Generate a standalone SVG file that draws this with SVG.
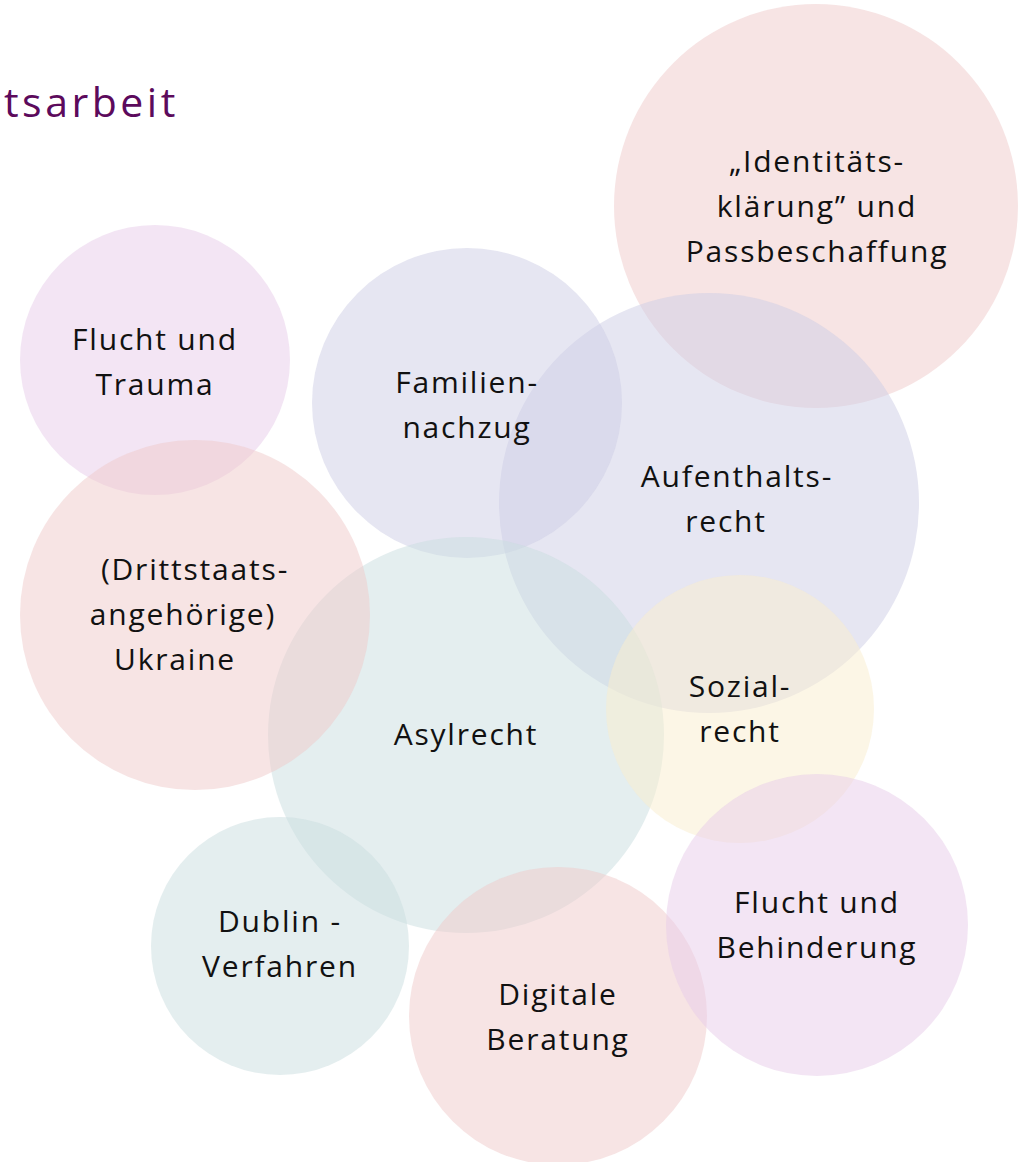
<svg xmlns="http://www.w3.org/2000/svg" width="1024" height="1162" viewBox="0 0 1024 1162">
  <style>
    .bubble { opacity: 0.5; }
    .pink { fill: #efc9c9; }
    .purple { fill: #e7cbe9; }
    .lavender { fill: #cdcde5; }
    .teal { fill: #c9dddf; }
    .yellow { fill: #f9edcd; }
    .label { font-family: "Open Sans", "Liberation Sans", sans-serif; font-size: 30px; letter-spacing: 1.8px; fill: #111; text-anchor: middle; }
    .title { font-family: "Open Sans", "Liberation Sans", sans-serif; font-size: 41px; letter-spacing: 3.5px; fill: #5c0a5c; }
  </style>
  <rect width="1024" height="1162" fill="#ffffff"/>
  <text class="title" x="4" y="117">tsarbeit</text>

  <g id="identitaet">
    <circle class="bubble pink" cx="816" cy="206" r="202"/>
    <text class="label"><tspan x="817" y="172">„Identitäts-</tspan><tspan x="817" y="217">klärung” und</tspan><tspan x="817" y="262">Passbeschaffung</tspan></text>
  </g>
  <g id="aufenthaltsrecht">
    <circle class="bubble lavender" cx="709" cy="503" r="210"/>
    <text class="label"><tspan x="737" y="487">Aufenthalts-</tspan><tspan x="726" y="532">recht</tspan></text>
  </g>
  <g id="familiennachzug">
    <circle class="bubble lavender" cx="467" cy="403" r="155"/>
    <text class="label"><tspan x="467" y="393">Familien-</tspan><tspan x="467" y="438">nachzug</tspan></text>
  </g>
  <g id="flucht-trauma">
    <circle class="bubble purple" cx="155" cy="360" r="135"/>
    <text class="label"><tspan x="155" y="350">Flucht und</tspan><tspan x="155" y="395">Trauma</tspan></text>
  </g>
  <g id="asylrecht">
    <circle class="bubble teal" cx="466" cy="735" r="198"/>
    <text class="label" x="466" y="745">Asylrecht</text>
  </g>
  <g id="ukraine">
    <circle class="bubble pink" cx="195" cy="615" r="175"/>
    <text class="label"><tspan x="195" y="580">(Drittstaats-</tspan><tspan x="183" y="625">angehörige)</tspan><tspan x="175" y="670">Ukraine</tspan></text>
  </g>
  <g id="sozialrecht">
    <circle class="bubble yellow" cx="740" cy="709" r="134"/>
    <text class="label"><tspan x="740" y="697">Sozial-</tspan><tspan x="740" y="742">recht</tspan></text>
  </g>
  <g id="dublin">
    <circle class="bubble teal" cx="280" cy="946" r="129"/>
    <text class="label"><tspan x="280" y="932">Dublin -</tspan><tspan x="280" y="977">Verfahren</tspan></text>
  </g>
  <g id="digitale-beratung">
    <circle class="bubble pink" cx="558" cy="1016" r="149"/>
    <text class="label"><tspan x="558" y="1005">Digitale</tspan><tspan x="558" y="1050">Beratung</tspan></text>
  </g>
  <g id="flucht-behinderung">
    <circle class="bubble purple" cx="817" cy="925" r="151"/>
    <text class="label"><tspan x="817" y="913">Flucht und</tspan><tspan x="817" y="958">Behinderung</tspan></text>
  </g>
  <g id="connectors"/>
</svg>
